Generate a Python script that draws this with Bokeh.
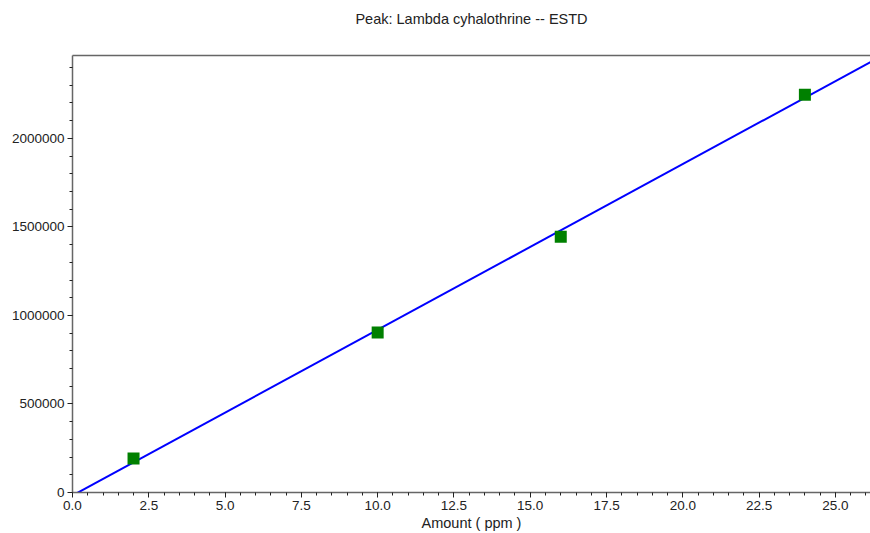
from bokeh.plotting import figure
from bokeh.models import (Range1d, SingleIntervalTicker, NumeralTickFormatter,
                          LinearAxis, Title, FixedTicker)
from bokeh.embed import file_html
from bokeh.resources import INLINE

# Data
amount_ppm = [2.0, 10.0, 16.0, 24.0]
response = [192000, 903000, 1445000, 2247000]
fit_slope = 93600.0
fit_intercept = -17000.0
fit_x = [0.0, 27.0]
fit_y = [fit_slope * x + fit_intercept for x in fit_x]

title_text = "Peak: Lambda cyhalothrine -- ESTD"
x_label = "Amount ( ppm )"

FONT = "Liberation Sans"

p = figure(width=870, height=533, output_backend="svg", toolbar_location=None,
           x_range=Range1d(0, 26.15), y_range=Range1d(0, 2468000),
           min_border_left=72, min_border_right=0, min_border_top=55,
           min_border_bottom=41)
p.title = None

xa = p.below[0]
ya = p.left[0]

# top border line as an empty axis
top_axis = LinearAxis(ticker=FixedTicker(ticks=[]),
                      major_tick_line_color=None, minor_tick_line_color=None,
                      axis_line_color="#666666", axis_line_width=1.5)
p.add_layout(top_axis, "above")
p.add_layout(Title(text=title_text, align="center", text_font=FONT,
                   text_font_size="14.5px", text_font_style="normal",
                   text_color="#222222",
                   padding=dict(left=0, right=0, top=0, bottom=24)), "above")

p.xgrid.visible = False
p.ygrid.visible = False
p.outline_line_color = None
p.background_fill_color = "white"
p.border_fill_color = "white"

xa.ticker = SingleIntervalTicker(interval=2.5, num_minor_ticks=5)
xa.formatter = NumeralTickFormatter(format="0.0")
xa.axis_label = x_label

ya.ticker = SingleIntervalTicker(interval=500000, num_minor_ticks=5)
ya.formatter = NumeralTickFormatter(format="0")

for ax in (xa, ya):
    ax.axis_line_color = "#666666"
    ax.axis_line_width = 1.5
    ax.major_tick_line_color = "#222222"
    ax.minor_tick_line_color = "#222222"
    ax.major_tick_out = 5
    ax.major_tick_in = 0
    ax.minor_tick_out = 3
    ax.minor_tick_in = 0
    ax.major_label_text_font = FONT
    ax.major_label_text_font_size = "13.5px"
    ax.major_label_text_color = "#222222"
    ax.major_label_standoff = 3
    ax.axis_label_text_font = FONT
    ax.axis_label_text_font_size = "14.5px"
    ax.axis_label_text_font_style = "normal"
    ax.axis_label_text_color = "#222222"
    ax.axis_label_standoff = 2

p.line(fit_x, fit_y, line_color="#0000ff", line_width=2)
p.scatter(amount_ppm, response, marker="square", size=12,
          fill_color="#008000", line_color=None)

open("out.html", "w").write(file_html(p, INLINE))
